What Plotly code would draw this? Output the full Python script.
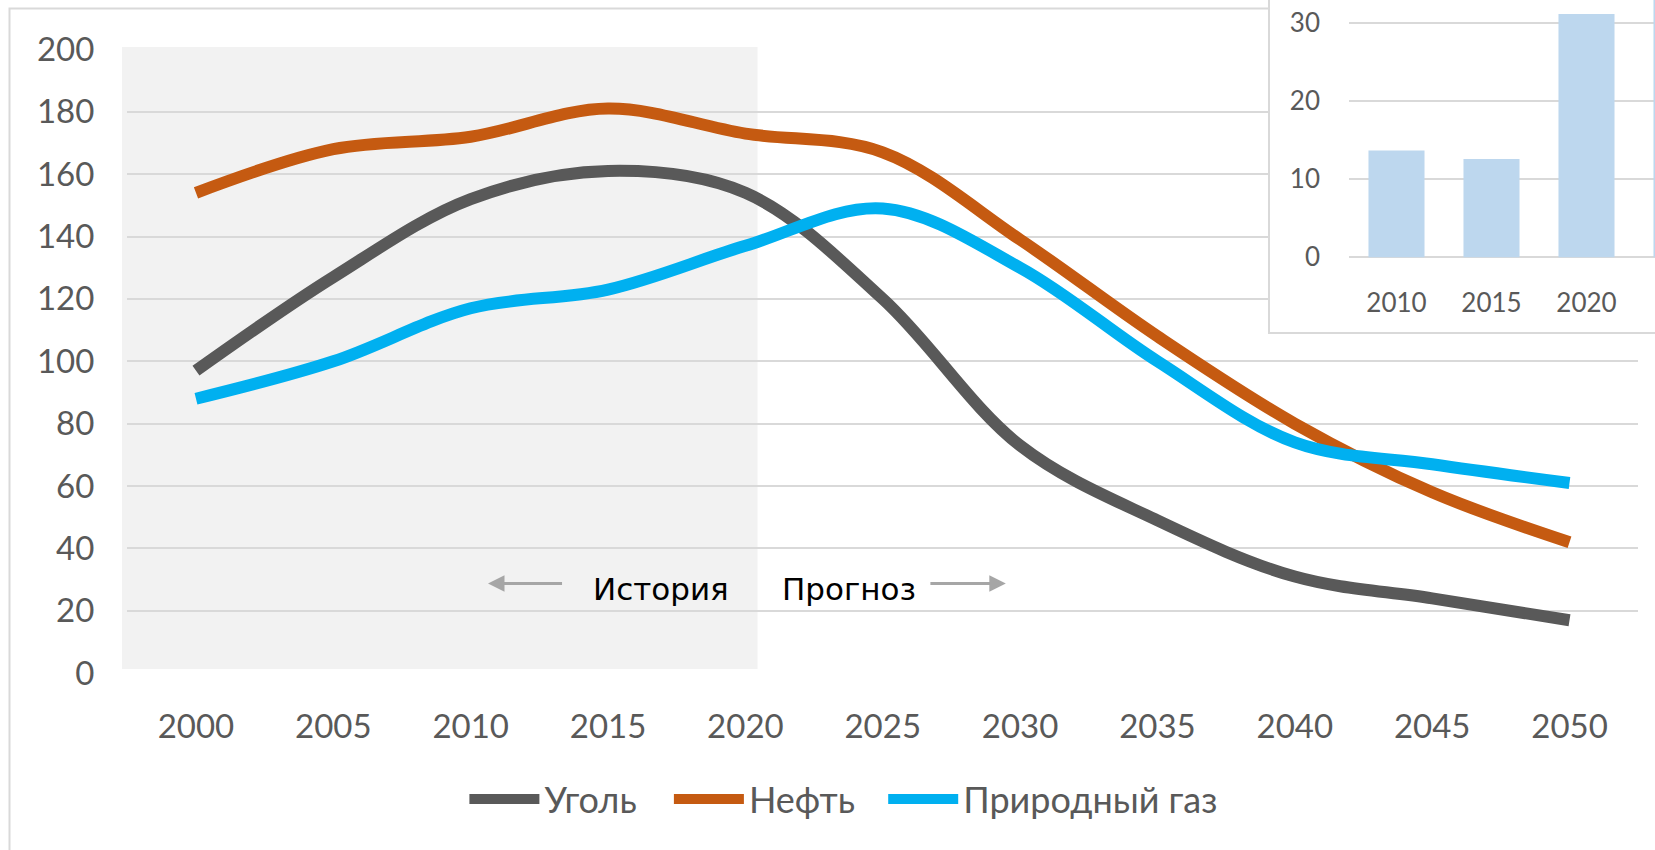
import plotly.graph_objects as go

# ---------------- data ----------------
years = [2000, 2005, 2010, 2015, 2020, 2025, 2030, 2035, 2040, 2045, 2050]
coal = [97, 127, 152, 161, 154, 120, 73, 49, 31, 24, 17]
oil = [154, 168, 172, 181, 173, 167, 139, 108, 80, 58, 42]
gas = [88, 100, 117, 123, 137, 149, 130, 100, 74, 67, 61]
series_names = ["Уголь", "Нефть", "Природный газ"]
series_values = [coal, oil, gas]
series_colors = ["#595959", "#C55A11", "#00B0F0"]
y_ticks = [0, 20, 40, 60, 80, 100, 120, 140, 160, 180, 200]

inset_years = ["2010", "2015", "2020", "2025"]
inset_values = [13.7, 12.6, 31.2, 40]
inset_ticks = [0, 10, 20, 30]

history_label = "История"
forecast_label = "Прогноз"

W, H = 1655, 850
FONT = "Lato, 'Noto Sans', sans-serif"
GRID = "#D9D9D9"
TXT = "#595959"

legend_ids = ["legend", "legend2", "legend3"]
legend_x_px = [464.4, 668.9, 883.2]

fig = go.Figure()

for name, vals, col, lid in zip(series_names, series_values, series_colors, legend_ids):
    fig.add_trace(go.Scatter(
        x=years, y=vals, name=name, mode="lines",
        line=dict(color=col, width=12, shape="spline", smoothing=1),
        xaxis="x", yaxis="y", legend=lid,
    ))

# empty trace for the inset background subplot
fig.add_trace(go.Scatter(x=[], y=[], xaxis="x2", yaxis="y2", showlegend=False, hoverinfo="skip"))

fig.add_trace(go.Bar(
    x=inset_years, y=inset_values, marker=dict(color="#BDD7EE", line=dict(width=0)),
    xaxis="x3", yaxis="y3", showlegend=False,
))

fig.update_layout(
    width=W, height=H,
    margin=dict(l=0, r=0, t=0, b=0, autoexpand=False),
    paper_bgcolor="white", plot_bgcolor="rgba(0,0,0,0)",
    font=dict(family=FONT, color=TXT, size=33),
    bargap=0.41,
    xaxis=dict(
        domain=[127.3 / W, 1638.2 / W], range=[1997.5, 2052.5],
        tickmode="array", tickvals=years, ticktext=[str(y) for y in years],
        showgrid=False, zeroline=False, showline=False, ticks="",
        tickfont=dict(size=33, color=TXT), ticklabelstandoff=30,
        anchor="y", automargin=False,
    ),
    yaxis=dict(
        domain=[1 - 674.2 / H, 1 - 48.4 / H], range=[-0.3, 200.3],
        tickmode="array", tickvals=y_ticks,
        showgrid=True, gridcolor=GRID, gridwidth=2,
        zeroline=False, showline=False, ticks="",
        tickfont=dict(size=33, color=TXT), ticklabelstandoff=32,
        anchor="x", automargin=False,
    ),
    xaxis2=dict(domain=[1262 / W, 1], range=[0, 1], visible=False, anchor="y2",
                fixedrange=True, automargin=False),
    yaxis2=dict(domain=[1 - 340 / H, 1], range=[0, 1], visible=False, anchor="x2",
                fixedrange=True, automargin=False),
    xaxis3=dict(
        domain=[1349 / W, 1], range=[-0.5, -0.5 + 306 / 95], type="category",
        showgrid=False, zeroline=False, showline=False, ticks="",
        tickfont=dict(size=26, color=TXT), ticklabelstandoff=26, anchor="y3", automargin=False,
    ),
    yaxis3=dict(
        domain=[1 - 258.9 / H, 1], range=[-0.2, 33.0],
        tickmode="array", tickvals=inset_ticks,
        showgrid=True, gridcolor=GRID, gridwidth=2,
        zeroline=False, showline=False, ticks="",
        tickfont=dict(size=26, color=TXT), ticklabelstandoff=28, anchor="x3", automargin=False,
    ),
    showlegend=True,
)

for lid, lx in zip(legend_ids, legend_x_px):
    fig.update_layout({lid: dict(
        orientation="h", x=lx / W, xanchor="left", y=1 - 799 / H, yanchor="middle",
        font=dict(size=36, color=TXT), bgcolor="rgba(0,0,0,0)",
        itemwidth=70, tracegroupgap=0,
    )})

shapes = [
    # outer chart border
    dict(type="rect", xref="paper", yref="paper", x0=9.5 / W, x1=1.02, y0=-0.02, y1=1 - 8.5 / H,
         line=dict(color=GRID, width=2), fillcolor="white", layer="below"),
    # history shading
    dict(type="rect", xref="paper", yref="paper", x0=122 / W, x1=757.5 / W, y0=1 - 669 / H, y1=1 - 47 / H,
         line=dict(width=0), fillcolor="#F2F2F2", layer="below"),
    # inset chart background (covers main chart)
    dict(type="rect", xref="x2", yref="y2", x0=7 / 393, x1=1.2, y0=7 / 340, y1=1.2,
         line=dict(color=GRID, width=2), fillcolor="white", layer="below"),
]
fig.update_layout(shapes=shapes)

arrow_y = 28.75
annotations = [
    dict(x=2010.63, y=arrow_y, ax=2013.38, ay=arrow_y, xref="x", yref="y", axref="x", ayref="y",
         text="", showarrow=True, arrowhead=2, arrowsize=1.1, arrowwidth=3, arrowcolor="#A6A6A6"),
    dict(x=2029.48, y=arrow_y, ax=2026.68, ay=arrow_y, xref="x", yref="y", axref="x", ayref="y",
         text="", showarrow=True, arrowhead=2, arrowsize=1.1, arrowwidth=3, arrowcolor="#A6A6A6"),
    dict(x=2016.93, y=27.0, xref="x", yref="y", text=history_label, showarrow=False,
         font=dict(family="DejaVu Sans", size=31, color="black"), xanchor="center", yanchor="middle"),
    dict(x=2023.76, y=27.0, xref="x", yref="y", text=forecast_label, showarrow=False,
         font=dict(family="DejaVu Sans", size=31, color="black"), xanchor="center", yanchor="middle"),
]
fig.update_layout(annotations=annotations)

fig.write_html(
    "out.html",
    config={"displayModeBar": False},
    post_script="document.body.style.margin='0px'; document.body.style.overflow='hidden';",
)
